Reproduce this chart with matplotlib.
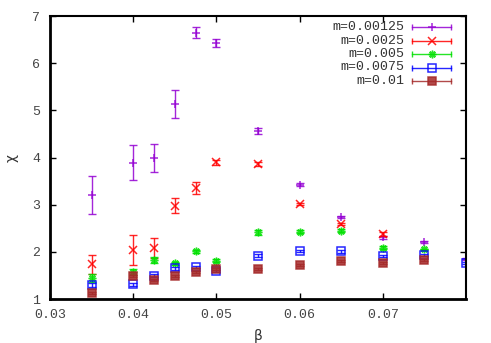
import numpy as np
import matplotlib
matplotlib.use('Agg')
import matplotlib.pyplot as plt

# beta values per series
beta_1 = [0.035, 0.04, 0.0425, 0.045, 0.0475, 0.05, 0.055, 0.06, 0.065, 0.07, 0.075, 0.08]
chi_1 = [3.20, 3.89, 3.99, 5.14, 6.65, 6.43, 4.56, 3.42, 2.74, 2.31, 2.21, 1.85]
err_1 = [0.40, 0.37, 0.30, 0.30, 0.12, 0.08, 0.06, 0.03, 0.03, 0.03, 0.02, 0.02]

beta_2 = [0.035, 0.04, 0.0425, 0.045, 0.0475, 0.05, 0.055, 0.06, 0.065, 0.07]
chi_2 = [1.74, 2.04, 2.08, 2.98, 3.35, 3.90, 3.86, 3.01, 2.59, 2.38]
err_2 = [0.20, 0.32, 0.21, 0.16, 0.13, 0.05, 0.04, 0.02, 0.03, 0.04]

beta_3 = [0.035, 0.04, 0.0425, 0.045, 0.0475, 0.05, 0.055, 0.06, 0.065, 0.07, 0.075]
chi_3 = [1.45, 1.57, 1.83, 1.76, 2.01, 1.81, 2.41, 2.43, 2.45, 2.09, 2.05]
err_3 = [0.08, 0.07, 0.06, 0.03, 0.03, 0.03, 0.05, 0.03, 0.04, 0.03, 0.02]

beta_4 = [0.035, 0.04, 0.0425, 0.045, 0.0475, 0.05, 0.055, 0.06, 0.065, 0.07, 0.075, 0.08]
chi_4 = [1.30, 1.31, 1.49, 1.65, 1.68, 1.59, 1.92, 2.01, 2.01, 1.92, 1.93, 1.77]
err_4 = [0.04, 0.03, 0.03, 0.03, 0.03, 0.02, 0.03, 0.02, 0.03, 0.02, 0.02, 0.02]

beta_5 = [0.035, 0.04, 0.0425, 0.045, 0.0475, 0.05, 0.055, 0.06, 0.065, 0.07, 0.075]
chi_5 = [1.13, 1.48, 1.40, 1.48, 1.58, 1.63, 1.64, 1.72, 1.80, 1.77, 1.83]
err_5 = [0.02, 0.02, 0.02, 0.02, 0.02, 0.02, 0.02, 0.02, 0.02, 0.02, 0.02]

labels = ['m=0.00125', 'm=0.0025', 'm=0.005', 'm=0.0075', 'm=0.01']
colors = ['#9400d3', '#ff0000', '#00e000', '#0000ff', '#a52a2a']
markers = ['+', 'x', (8, 2, 0), 's', 's']
fills = ['full', 'full', 'full', 'none', 'full']

series = [(beta_1, chi_1, err_1), (beta_2, chi_2, err_2), (beta_3, chi_3, err_3),
          (beta_4, chi_4, err_4), (beta_5, chi_5, err_5)]

mono = 'Liberation Mono'

fig = plt.figure(figsize=(4.91, 3.43), dpi=100)
ax = fig.add_axes([50/491, 1 - 299/343, 416/491, 283/343])

for (bb, cc, ee), col, mk, fs in zip(series, colors, markers, fills):
    ax.errorbar(bb, cc, yerr=ee, fmt='none', ecolor=col, elinewidth=1,
                capsize=3, capthick=1, alpha=0.85)
    ax.plot(bb, cc, linestyle='none', marker=mk, color=col, ms=5.5,
            mew=1.1, fillstyle=fs, alpha=0.85)

# gnuplot-like key
for i, (lab, col, mk, fs) in enumerate(zip(labels, colors, markers, fills)):
    yk = 1 - (27 - 16 + i*13.5)/283
    ax.text((404 - 50)/416, yk, lab, transform=ax.transAxes,
            ha='right', va='center', family=mono, fontsize=9.5, color='#333333')
    x0, x1 = (412 - 50)/416, (451 - 50)/416
    ax.plot([x0, x1], [yk, yk], transform=ax.transAxes, color=col, lw=1,
            marker='|', ms=5, alpha=0.85)
    ax.plot([(x0 + x1)/2], [yk], transform=ax.transAxes, color=col, marker=mk,
            ms=5.5, mew=1.1, fillstyle=fs, alpha=0.85)

ax.set_xlim(0.03, 0.08)
ax.set_ylim(1, 7)
ax.set_xticks([0.03, 0.04, 0.05, 0.06, 0.07])
ax.set_xticklabels(['0.03', '0.04', '0.05', '0.06', '0.07'])
ax.set_yticks([1, 2, 3, 4, 5, 6, 7])
ax.tick_params(direction='in', top=True, right=True, length=4, width=1,
               labelsize=9.5, labelcolor='#444444', pad=7)
for lab in ax.get_xticklabels() + ax.get_yticklabels():
    lab.set_family(mono)
for sp in ax.spines.values():
    sp.set_linewidth(1.5)
ax.spines['left'].set_linewidth(2)
ax.spines['bottom'].set_linewidth(2)

ax.set_xlabel('β', fontsize=10, color='#333333', labelpad=6)
ax.set_ylabel('χ', fontsize=10, color='#333333', rotation=90, labelpad=10)

fig.savefig('out.png', dpi=100)
